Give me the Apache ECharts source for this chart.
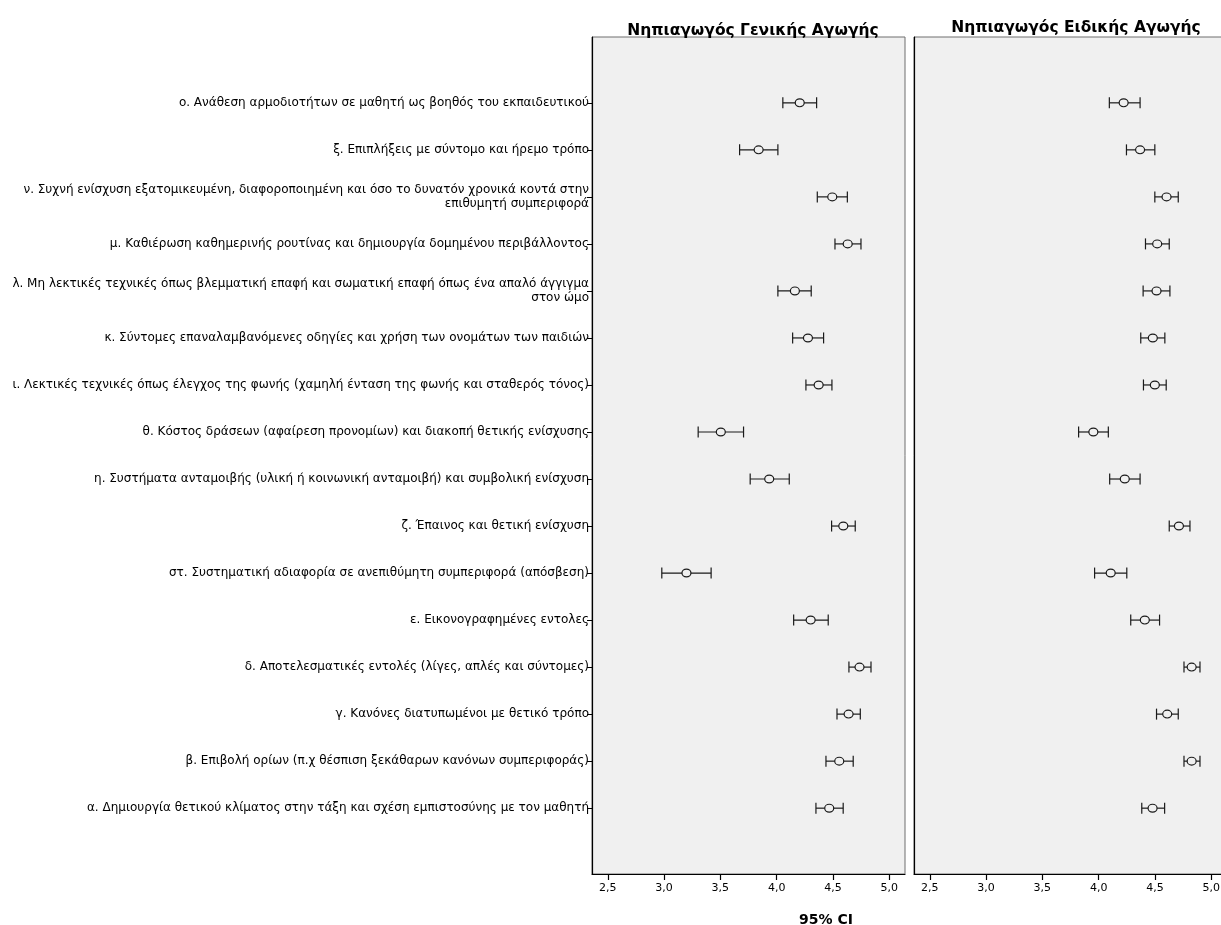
<!DOCTYPE html>
<html>
<head>
<meta charset="utf-8">
<title>95% CI</title>
<script src="https://cdn.jsdelivr.net/npm/echarts@6/dist/echarts.min.js"></script>
<style>
  html, body { margin: 0; padding: 0; background: #fff; }
  #chart { width: 1221px; height: 925px; }
</style>
</head>
<body>
<div id="chart"></div>
<script>
// Strategies, listed bottom (α) to top (ο)
const categories = [
  'α. Δημιουργία θετικού κλίματος στην τάξη και σχέση εμπιστοσύνης με τον μαθητή',
  'β. Επιβολή ορίων (π.χ θέσπιση ξεκάθαρων κανόνων συμπεριφοράς)',
  'γ. Κανόνες διατυπωμένοι με θετικό τρόπο',
  'δ. Αποτελεσματικές εντολές (λίγες, απλές και σύντομες)',
  'ε. Εικονογραφημένες εντολες',
  'στ. Συστηματική αδιαφορία σε ανεπιθύμητη συμπεριφορά (απόσβεση)',
  'ζ. Έπαινος και θετική ενίσχυση',
  'η. Συστήματα ανταμοιβής (υλική ή κοινωνική ανταμοιβή) και συμβολική ενίσχυση',
  'θ. Κόστος δράσεων (αφαίρεση προνομίων) και διακοπή θετικής ενίσχυσης',
  'ι. Λεκτικές τεχνικές όπως έλεγχος της φωνής (χαμηλή ένταση της φωνής και σταθερός τόνος)',
  'κ. Σύντομες επαναλαμβανόμενες οδηγίες και χρήση των ονομάτων των παιδιών',
  'λ. Μη λεκτικές τεχνικές όπως βλεμματική επαφή και σωματική επαφή όπως ένα απαλό άγγιγμα\nστον ώμο',
  'μ. Καθιέρωση καθημερινής ρουτίνας και δημιουργία δομημένου περιβάλλοντος',
  'ν. Συχνή ενίσχυση εξατομικευμένη, διαφοροποιημένη και όσο το δυνατόν χρονικά κοντά στην\nεπιθυμητή συμπεριφορά',
  'ξ. Επιπλήξεις με σύντομο και ήρεμο τρόπο',
  'ο. Ανάθεση αρμοδιοτήτων σε μαθητή ως βοηθός του εκπαιδευτικού'
];

const panelTitles = ['Νηπιαγωγός Γενικής Αγωγής', 'Νηπιαγωγός Ειδικής Αγωγής'];
const axisTitle = '95% CI';
const tickValues = [2.5, 3.0, 3.5, 4.0, 4.5, 5.0];

// Γενικής Αγωγής: mean, lower and upper 95% CI bounds
const generalMean  = [4.467, 4.556, 4.639, 4.736, 4.302, 3.199, 4.592, 3.934, 3.504, 4.373, 4.278, 4.162, 4.631, 4.494, 3.840, 4.205];
const generalLower = [4.349, 4.438, 4.536, 4.642, 4.151, 2.980, 4.488, 3.765, 3.303, 4.260, 4.142, 4.011, 4.518, 4.361, 3.671, 4.055];
const generalUpper = [4.591, 4.680, 4.743, 4.838, 4.458, 3.418, 4.698, 4.112, 3.706, 4.491, 4.417, 4.307, 4.749, 4.628, 4.011, 4.355];

// Ειδικής Αγωγής: mean, lower and upper 95% CI bounds
const specialMean  = [4.479, 4.826, 4.609, 4.826, 4.410, 4.107, 4.713, 4.232, 3.953, 4.499, 4.481, 4.514, 4.520, 4.603, 4.368, 4.222];
const specialLower = [4.383, 4.758, 4.514, 4.758, 4.285, 3.964, 4.627, 4.098, 3.822, 4.398, 4.374, 4.395, 4.416, 4.499, 4.247, 4.095];
const specialUpper = [4.586, 4.900, 4.707, 4.900, 4.541, 4.250, 4.811, 4.368, 4.086, 4.600, 4.588, 4.633, 4.627, 4.707, 4.499, 4.368];

const FONT = "'DejaVu Sans', 'Liberation Sans', Arial, sans-serif";
const X_MIN = 2.36, X_MAX = 5.14;
const Y_MIN = -1.4, Y_MAX = categories.length - 1 + 1.4;
const rowValues = categories.map((_, i) => i);

function rows(mean, lower, upper) {
  return mean.map((m, i) => [m, lower[i], upper[i], i]);
}

// Error bar: whisker line, end caps and a hollow circle at the mean
function renderErrorBar(params, api) {
  const y = api.value(3);
  const c = api.coord([api.value(0), y]);
  const lo = api.coord([api.value(1), y]);
  const hi = api.coord([api.value(2), y]);
  const cap = 5.5, r = 4.2;
  const style = { stroke: '#1a1a1a', lineWidth: 1.2, fill: null };
  return {
    type: 'group',
    children: [
      { type: 'line', shape: { x1: lo[0], y1: lo[1], x2: hi[0], y2: hi[1] }, style },
      { type: 'line', shape: { x1: lo[0], y1: lo[1] - cap, x2: lo[0], y2: lo[1] + cap }, style },
      { type: 'line', shape: { x1: hi[0], y1: hi[1] - cap, x2: hi[0], y2: hi[1] + cap }, style },
      { type: 'ellipse', shape: { cx: c[0], cy: c[1], rx: r + 0.3, ry: r - 0.3 },
        style: { stroke: '#1a1a1a', lineWidth: 1.2, fill: '#f0f0f0' } }
    ]
  };
}

function xAxisFor(gridIndex) {
  return {
    type: 'value', gridIndex, min: X_MIN, max: X_MAX,
    axisLine: { show: true, onZero: false, lineStyle: { color: '#000', width: 1.2 } },
    axisTick: { show: true, length: 6, customValues: tickValues, lineStyle: { color: '#000', width: 1.2 } },
    axisLabel: {
      customValues: tickValues, color: '#000', fontFamily: FONT, fontSize: 11, margin: 9,
      formatter: v => v.toFixed(1).replace('.', ',')
    },
    splitLine: { show: false }
  };
}

function yAxisFor(gridIndex, withLabels) {
  return {
    type: 'value', gridIndex, min: Y_MIN, max: Y_MAX,
    axisLine: { show: true, onZero: false, lineStyle: { color: '#000', width: 1.2 } },
    axisTick: { show: withLabels, length: 5, customValues: rowValues, lineStyle: { color: '#000' } },
    axisLabel: {
      show: withLabels, customValues: rowValues, color: '#000', fontFamily: FONT, fontSize: 12,
      margin: 3, lineHeight: 14, align: 'right',
      formatter: v => categories[Math.round(v)] || ''
    },
    splitLine: { show: false }
  };
}

const gridBase = {
  show: true, backgroundColor: '#f0f0f0', borderColor: '#6e6e6e', borderWidth: 1,
  top: 37, height: 837, width: 313, containLabel: false, outerBoundsMode: 'none'
};

const chart = echarts.init(document.getElementById('chart'), null, { renderer: 'canvas' });
chart.setOption({
  animation: false,
  backgroundColor: '#fff',
  title: [
    { text: panelTitles[0], left: 748, top: 18, textAlign: 'center',
      textStyle: { fontFamily: FONT, fontSize: 15.5, fontWeight: 'bold', color: '#000' } },
    { text: panelTitles[1], left: 1071, top: 15, textAlign: 'center',
      textStyle: { fontFamily: FONT, fontSize: 15.5, fontWeight: 'bold', color: '#000' } },
    { text: axisTitle, left: 821, top: 908, textAlign: 'center',
      textStyle: { fontFamily: FONT, fontSize: 14, fontWeight: 'bold', color: '#000' } }
  ],
  grid: [
    Object.assign({}, gridBase, { left: 592 }),
    Object.assign({}, gridBase, { left: 914 })
  ],
  xAxis: [xAxisFor(0), xAxisFor(1)],
  yAxis: [yAxisFor(0, true), yAxisFor(1, false)],
  series: [
    { type: 'custom', xAxisIndex: 0, yAxisIndex: 0, renderItem: renderErrorBar,
      encode: { x: [0, 1, 2], y: 3 }, data: rows(generalMean, generalLower, generalUpper), clip: false },
    { type: 'custom', xAxisIndex: 1, yAxisIndex: 1, renderItem: renderErrorBar,
      encode: { x: [0, 1, 2], y: 3 }, data: rows(specialMean, specialLower, specialUpper), clip: false }
  ]
});
</script>
</body>
</html>
